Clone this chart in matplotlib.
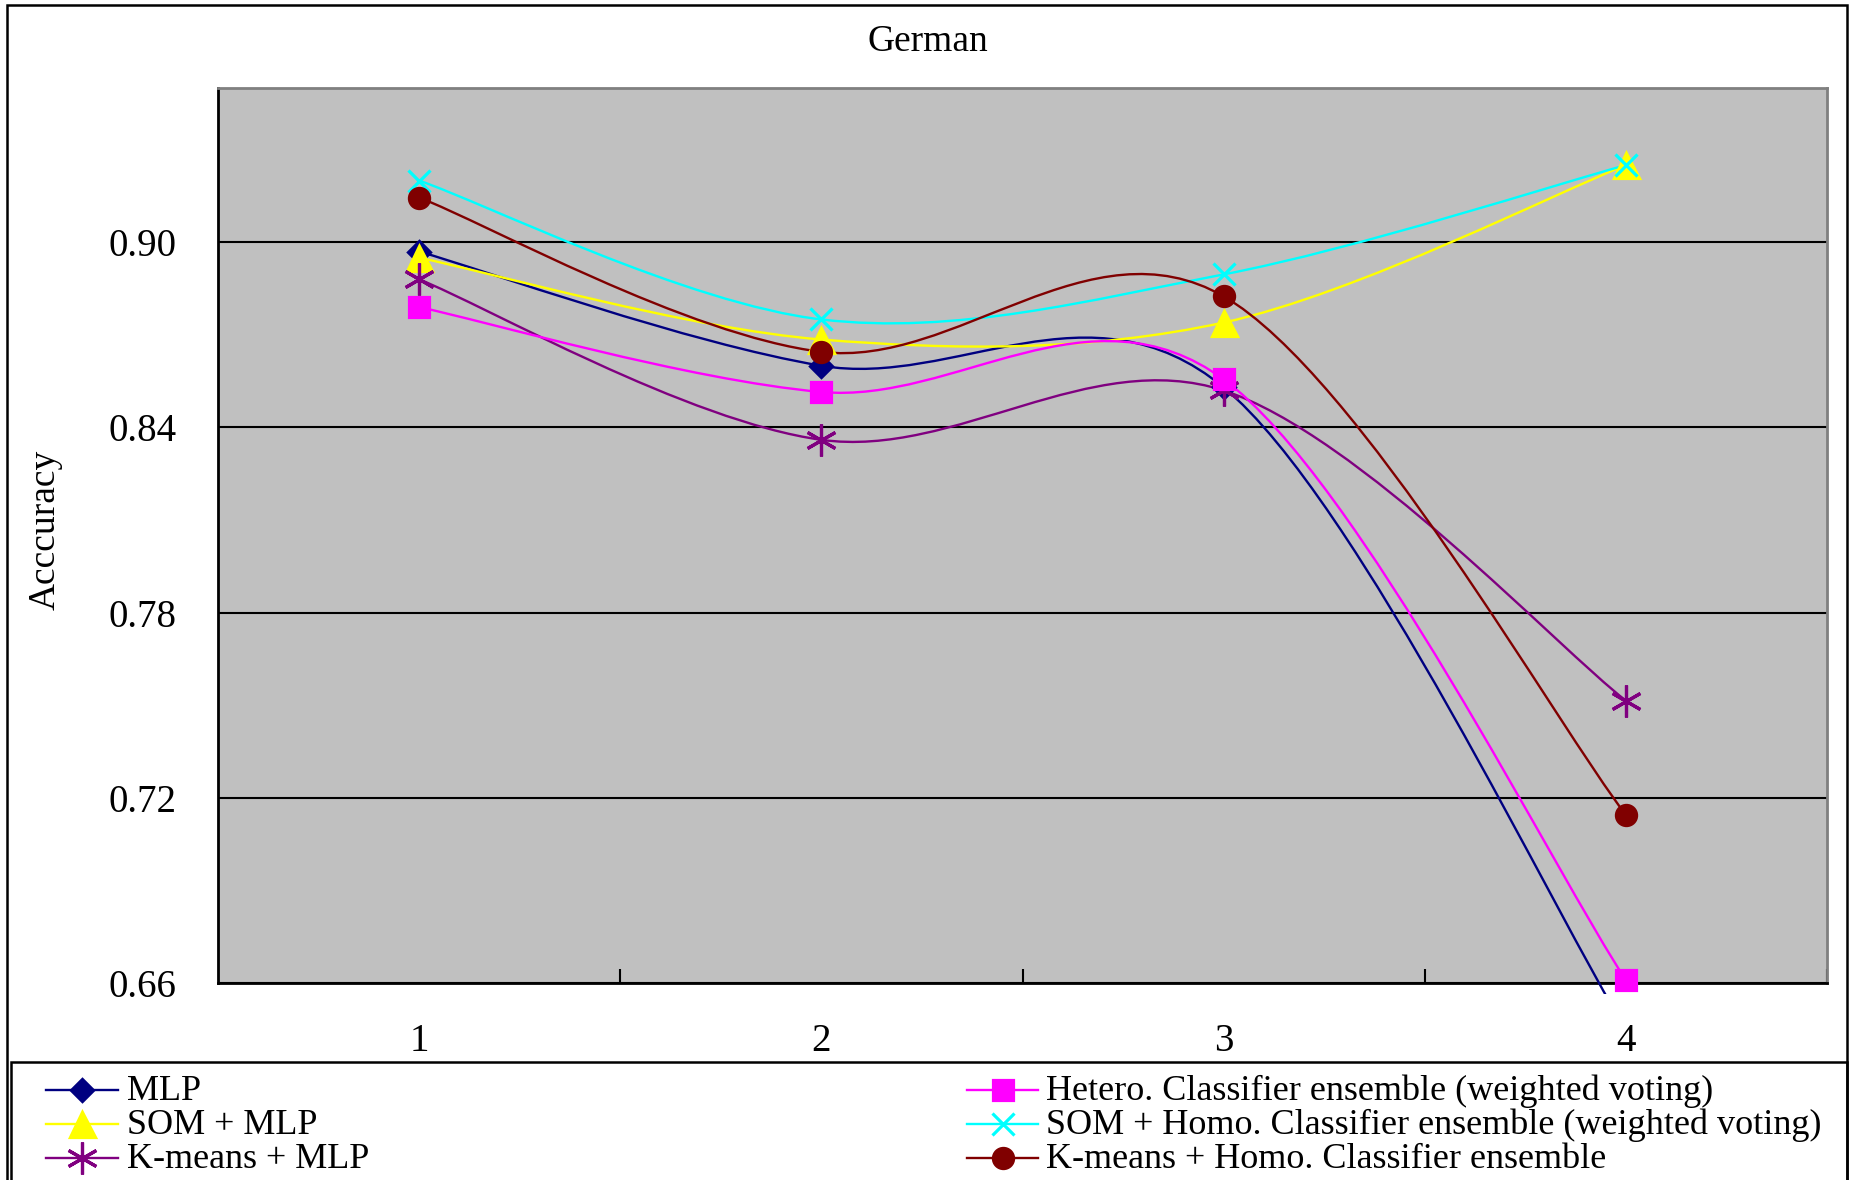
import matplotlib
matplotlib.use('Agg')
import matplotlib.pyplot as plt
from matplotlib.path import Path
from matplotlib.patches import PathPatch, Rectangle
from matplotlib.lines import Line2D

# valores (German)
categorias = [1, 2, 3, 4]
mlp = [0.897, 0.860, 0.853, 0.645]
som_mlp = [0.895, 0.8685, 0.874, 0.925]
kmeans_mlp = [0.888, 0.836, 0.852, 0.7515]
hetero = [0.879, 0.8515, 0.8556, 0.661]
som_homo = [0.920, 0.875, 0.8896, 0.925]
kmeans_homo = [0.9145, 0.8645, 0.8825, 0.7145]

nomes = ['MLP', 'SOM + MLP', 'K-means + MLP',
         'Hetero. Classifier ensemble (weighted voting)',
         'SOM + Homo. Classifier ensemble (weighted voting)',
         'K-means + Homo. Classifier ensemble']
series = [mlp, som_mlp, kmeans_mlp, hetero, som_homo, kmeans_homo]
cores = ['#000080', '#FFFF00', '#800080', '#FF00FF', '#00FFFF', '#800000']
marcadores = ['D', '^', (6, 2, 0), 's', 'x', 'o']
tam_marcador = [11, 18, 23, 14.5, 16, 14.5]
y_ticks = [0.66, 0.72, 0.78, 0.84, 0.90]

W, H = 1851, 1180
FONTE = 'Liberation Serif'
plt.rcParams['font.family'] = FONTE


def fx(px):
    return px / W


def fy(py):
    return 1 - py / H


def caminho_suave(xs, ys):
    # curva suavizada estilo Excel (Catmull-Rom em Bezier)
    pts = list(zip(xs, ys))
    verts = [pts[0]]
    codes = [Path.MOVETO]
    for i in range(len(pts) - 1):
        p0 = pts[i - 1] if i > 0 else pts[i]
        p1 = pts[i]
        p2 = pts[i + 1]
        p3 = pts[i + 2] if i + 2 < len(pts) else pts[i + 1]
        c1 = (p1[0] + (p2[0] - p0[0]) / 6, p1[1] + (p2[1] - p0[1]) / 6)
        c2 = (p2[0] - (p3[0] - p1[0]) / 6, p2[1] - (p3[1] - p1[1]) / 6)
        verts += [c1, c2, p2]
        codes += [Path.CURVE4] * 3
    return Path(verts, codes)


fig = plt.figure(figsize=(W / 100, H / 100), dpi=100)
ax = fig.add_axes([fx(218), fy(983), fx(1827) - fx(218), fy(88) - fy(983)])
ax.set_facecolor('#C0C0C0')
ax.set_xlim(0.5, 4.5)
ax.set_ylim(0.66, 0.95)

# area de recorte um pouco abaixo do eixo, como no Excel
clip = Rectangle((0, -0.012), 1, 1.012, transform=ax.transAxes,
                 facecolor='none', edgecolor='none')
ax.add_patch(clip)

for nome, vals, cor, mk, ms in zip(nomes, series, cores, marcadores, tam_marcador):
    patch = PathPatch(caminho_suave(categorias, vals), facecolor='none',
                      edgecolor=cor, lw=1.7, zorder=3)
    ax.add_patch(patch)
    patch.set_clip_path(clip)
    linha, = ax.plot(categorias, vals, linestyle='none', marker=mk, markersize=ms,
                     color=cor, markeredgecolor=cor, markeredgewidth=2.3, zorder=4)
    linha.set_clip_path(clip)

# grade e eixos
ax.set_yticks(y_ticks)
ax.set_yticklabels([f'{v:.2f}' for v in y_ticks])
ax.grid(axis='y', color='black', linewidth=1.5)
ax.set_axisbelow(True)
ax.set_xticks(categorias)
ax.set_xticklabels([str(c) for c in categorias])
ax.set_xticks([1.5, 2.5, 3.5, 4.5], minor=True)
ax.tick_params(axis='x', which='major', length=0, pad=29, labelsize=28)
ax.tick_params(axis='x', which='minor', direction='in', length=10, width=1.5)
ax.tick_params(axis='y', length=0, pad=30, labelsize=28)
for lado in ['left', 'bottom']:
    ax.spines[lado].set_color('black')
    ax.spines[lado].set_linewidth(2)
for lado in ['top', 'right']:
    ax.spines[lado].set_color('#808080')
    ax.spines[lado].set_linewidth(2)

# titulo e rotulo do eixo y
fig.text(fx(928), fy(42), 'German', ha='center', va='center', fontsize=27)
fig.text(fx(45), fy(530), 'Acccuracy', ha='center', va='center',
         rotation=90, fontsize=27)

# bordas do grafico e da legenda
fig.add_artist(Rectangle((fx(7), fy(1200)), fx(1847) - fx(7), fy(5) - fy(1200),
                         transform=fig.transFigure, fill=False, lw=1.8, ec='black'))
fig.add_artist(Rectangle((fx(11), fy(1200)), fx(1847) - fx(11), fy(1062) - fy(1200),
                         transform=fig.transFigure, fill=False, lw=1.8, ec='black'))

# legenda manual em duas colunas
colunas = [(46, 118, 127), (967, 1038, 1046)]
linhas_y = [1090, 1124, 1158]
for i, (nome, cor, mk, ms) in enumerate(zip(nomes, cores, marcadores, tam_marcador)):
    x0, x1, xt = colunas[i // 3]
    yl = linhas_y[i % 3]
    fig.add_artist(Line2D([fx(x0), fx(x1)], [fy(yl), fy(yl)], transform=fig.transFigure,
                          color=cor, lw=1.7))
    fig.add_artist(Line2D([fx((x0 + x1) / 2)], [fy(yl)], transform=fig.transFigure,
                          linestyle='none', marker=mk, markersize=ms, color=cor,
                          markeredgecolor=cor, markeredgewidth=2.3))
    fig.text(fx(xt), fy(yl + 10), nome, ha='left', va='baseline', fontsize=26)

fig.savefig('out.png', dpi=100)
